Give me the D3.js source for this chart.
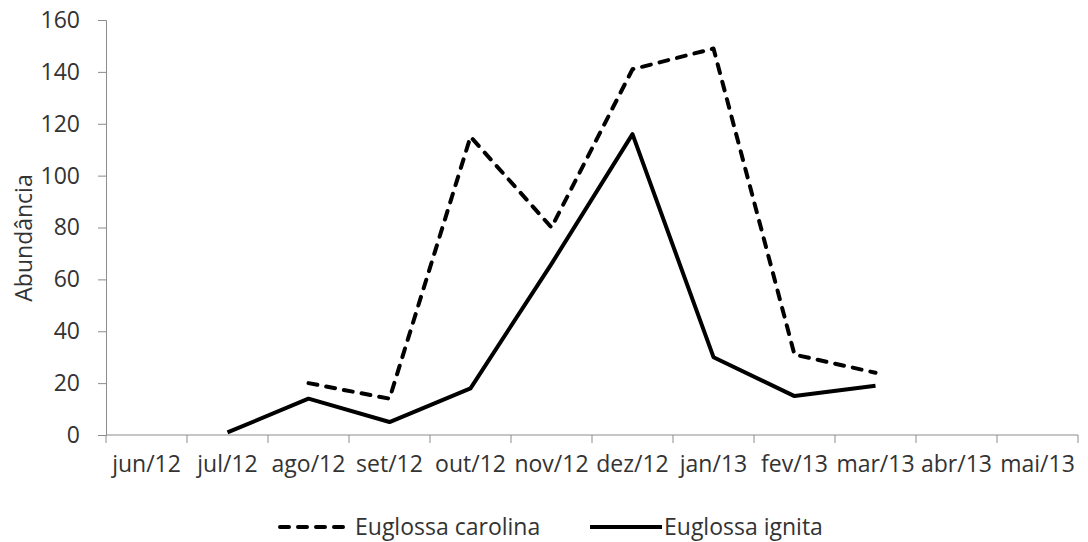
<!DOCTYPE html>
<html><head><meta charset="utf-8">
<script src="https://cdn.jsdelivr.net/npm/d3@7"></script>
<style>
html,body{margin:0;padding:0;background:#fff;}
text{font-family:"Open Sans",sans-serif;fill:#333;}
</style></head>
<body>
<svg id="c" width="1088" height="542"></svg>
<script>
const months = ["jun/12","jul/12","ago/12","set/12","out/12","nov/12","dez/12","jan/13","fev/13","mar/13","abr/13","mai/13"];
const carolina = [null,null,20,14,115,80,141,149,31,24,null,null];
const ignita = [null,1,14,5,18,66,116,30,15,19,null,null];
const yTicks = [0,20,40,60,80,100,120,140,160];
const seriesNames = ["Euglossa carolina","Euglossa ignita"];

const svg = d3.select("#c");
const x = d3.scaleBand().domain(months).range([106,1078]);
const y = d3.scaleLinear().domain([0,160]).range([435,20]);
const FS = "23px";

// y axis
const ya = svg.append("g").attr("transform","translate(106,0)")
  .call(d3.axisLeft(y).tickValues(yTicks).tickSize(8).tickPadding(18));
ya.selectAll("text").style("font-size",FS).attr("fill","#333");
ya.selectAll("line,path").attr("stroke","#8c8c8c");

// x axis
const xa = svg.append("g").attr("transform","translate(0,435)")
  .call(d3.axisBottom(x).tickSize(0).tickPadding(24));
xa.select("path").attr("stroke","#8c8c8c").attr("d","M106,0H1078");
xa.selectAll("text").style("font-size",FS).attr("fill","#333").attr("dy","0.55em");
// band boundary ticks
svg.append("g").selectAll("line").data(months.concat(["__end"])).join("line")
  .attr("x1",(d,i)=> i<months.length ? x(d) : x.range()[1])
  .attr("x2",(d,i)=> i<months.length ? x(d) : x.range()[1])
  .attr("y1",435).attr("y2",443).attr("stroke","#8c8c8c");

svg.append("text").attr("transform","translate(32,238) rotate(-90)")
  .attr("text-anchor","middle").style("font-size","23px").text("Abundância");

const line = d3.line().defined(d=>d.v!=null).x(d=>x(d.m)+x.bandwidth()/2).y(d=>y(d.v));
const mk = arr => months.map((m,i)=>({m, v:arr[i]}));

svg.append("path").datum(mk(carolina)).attr("d",line).attr("fill","none")
  .attr("stroke","#000").attr("stroke-width",4).attr("stroke-dasharray","9,9")
  .attr("stroke-linecap","round").attr("stroke-linejoin","round");
svg.append("path").datum(mk(ignita)).attr("d",line).attr("fill","none")
  .attr("stroke","#000").attr("stroke-width",4).attr("stroke-linejoin","round");

// legend
const lg = svg.append("g");
lg.append("line").attr("x1",280).attr("x2",350).attr("y1",527).attr("y2",527)
  .attr("stroke","#000").attr("stroke-width",4).attr("stroke-dasharray","9,9").attr("stroke-linecap","round");
lg.append("text").attr("x",355).attr("y",535).style("font-size",FS).text(seriesNames[0]);
lg.append("line").attr("x1",590).attr("x2",662).attr("y1",527).attr("y2",527)
  .attr("stroke","#000").attr("stroke-width",4);
lg.append("text").attr("x",664).attr("y",535).style("font-size",FS).text(seriesNames[1]);
</script>
</body></html>
